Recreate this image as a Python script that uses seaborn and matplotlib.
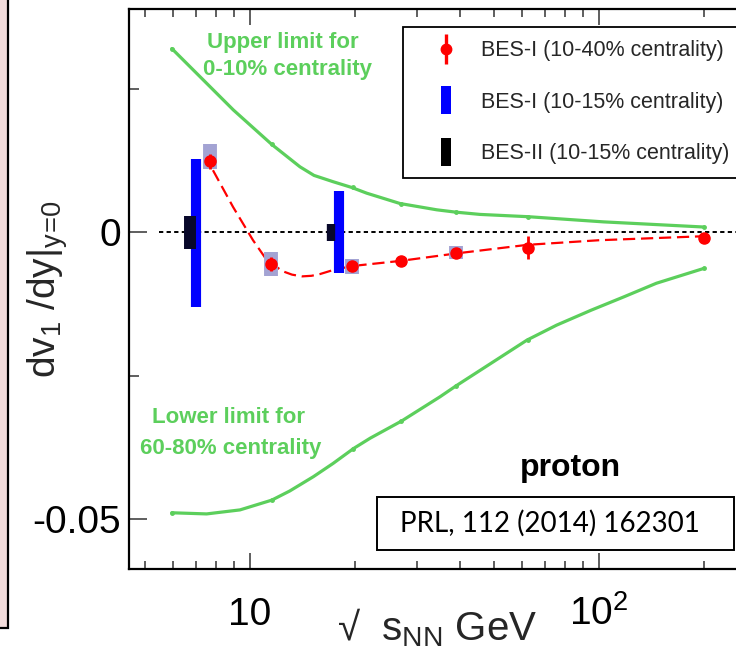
import matplotlib
matplotlib.use("Agg")
import matplotlib.pyplot as plt
import matplotlib.ticker as mticker
from matplotlib.lines import Line2D
from matplotlib.patches import Rectangle
import seaborn as sns

# ---------------- data ----------------
# BES-I proton dv1/dy (10-40% centrality)
bes1_x = [7.7, 11.5, 19.6, 27, 39, 62.4, 200]
bes1_y = [0.0124, -0.0056, -0.0059, -0.0050, -0.0036, -0.0027, -0.0010]
bes1_err = [0.0013, 0.0012, 0.0008, 0.0006, 0.0007, 0.0020, 0.0005]
# systematic boxes for BES-I
sys_x = [7.7, 11.5, 19.6, 39]
sys_lo = [0.0111, -0.0077, -0.0073, -0.0047]
sys_hi = [0.0153, -0.0035, -0.0047, -0.0024]
# BES-I (10-15% centrality) projected error bars
bes1c_x = [7.0, 18.0]
bes1c_lo = [-0.0131, -0.0071]
bes1c_hi = [0.0127, 0.0071]
# BES-II (10-15% centrality) projected error bars
bes2_x = [6.73, 17.1]
bes2_lo = [-0.0030, -0.0016]
bes2_hi = [0.0028, 0.0014]
# red dashed fit curve
fit_x = [7.83, 8.94, 10.2, 11.18, 12.4, 13.2, 14.1, 15.0, 15.86, 17.3, 19.6, 27, 39,
         62.4, 100, 200]
fit_y = [0.0108, 0.0044, -0.0014, -0.0049, -0.0068, -0.0074, -0.0077, -0.0076,
         -0.0073, -0.0066, -0.0059, -0.0050, -0.0037, -0.0022, -0.0014, -0.0007]
# green limit curves
up_x = [5.97, 7.19, 8.96, 11.54, 13.9, 15.25, 17.3, 19.55, 21.6, 26.9, 34.3, 38.8,
        45.6, 62.7, 103, 200]
up_y = [0.0320, 0.0271, 0.0213, 0.0153, 0.0114, 0.0099, 0.0088, 0.0078, 0.0068,
        0.0050, 0.0039, 0.0035, 0.0031, 0.0027, 0.0018, 0.0009]
lo_x = [5.97, 7.51, 9.36, 11.54, 13.0, 15.2, 17.3, 19.8, 22.1, 27.2, 35.0, 38.9,
        62.2, 75.6, 94.9, 117.5, 146, 200]
lo_y = [-0.0489, -0.0491, -0.0484, -0.0467, -0.0451, -0.0426, -0.0403, -0.0377,
        -0.0359, -0.0329, -0.0287, -0.0268, -0.0188, -0.0162, -0.0136, -0.0113,
        -0.0089, -0.0063]
model_x = [5.97, 11.54, 19.7, 27.1, 38.9, 62.4, 200]
model_up = [0.0320, 0.0153, 0.0078, 0.0050, 0.0035, 0.0027, 0.0009]
model_lo = [-0.0489, -0.0467, -0.0377, -0.0329, -0.0268, -0.0188, -0.0063]

x_major = [10, 100]
x_major_labels = ['10', r'$\mathregular{10^{2}}$']
x_minor = [5, 6, 7, 8, 9, 20, 30, 40, 50, 60, 70, 80, 90, 200]
y_major = [0, -0.05]
y_major_labels = ['0', '-0.05']
y_minor = [0.025, -0.025]

legend_labels = ['BES-I (10-40% centrality)', 'BES-I (10-15% centrality)',
                 'BES-II (10-15% centrality)']

# ---------------- style ----------------
sns.set_theme(style='ticks')
plt.rcParams['font.family'] = ['Liberation Sans', 'DejaVu Sans']
plt.rcParams['mathtext.fontset'] = 'custom'
plt.rcParams['mathtext.rm'] = 'Liberation Sans'
plt.rcParams['mathtext.it'] = 'Liberation Sans:italic'
plt.rcParams['mathtext.default'] = 'regular'

GREEN = '#5ccf5c'
RED = '#ff0000'
BLUE = '#0000ff'
DARK = '#08082a'
SYS = '#a3a3d3'

W, H = 736, 665
fig = plt.figure(figsize=(W / 100, H / 100), dpi=100)
fig.patch.set_facecolor('white')

# pink panel at the left edge
fig.patches.append(Rectangle((-0.02, (H - 628) / H), 0.02 + 8.5 / W, 1.1,
                             transform=fig.transFigure, facecolor='#f2dcdb',
                             edgecolor='black', lw=1.6, zorder=0))

ax_left, ax_bottom = 129, 569
ax_w = 636.5
ax_h = 560
ax = fig.add_axes([ax_left / W, (H - ax_bottom) / H, ax_w / W, ax_h / H])
ax.set_facecolor('white')
ax.set_xscale('log')
ax.set_xlim(4.5, 300)
ax.set_ylim(-0.0587, 0.0389)

# zero line
ax.axhline(0, xmin=0.047, xmax=1, color='black', lw=1.4, ls=(0, (2.2, 1.7)), zorder=1)

# green limits
sns.lineplot(x=up_x, y=up_y, ax=ax, color=GREEN, lw=2.3, sort=False, zorder=2)
sns.lineplot(x=lo_x, y=lo_y, ax=ax, color=GREEN, lw=2.3, sort=False, zorder=2)
ax.plot(model_x, model_up, ls='none', marker='o', ms=2.5, color=GREEN, zorder=2)
ax.plot(model_x, model_lo, ls='none', marker='o', ms=2.5, color=GREEN, zorder=2)

# red dashed fit
sns.lineplot(x=fit_x, y=fit_y, ax=ax, color=RED, lw=1.6, sort=False,
             dashes=False, zorder=3).lines[-1].set_dashes((5.5, 2.6))

# projected error bars
ax.vlines(bes1c_x, bes1c_lo, bes1c_hi, colors=BLUE, linewidths=7.3, zorder=4)
ax.vlines(bes2_x, bes2_lo, bes2_hi, colors=DARK, linewidths=[8.6, 6.0], zorder=5)

# systematic boxes and data points
ax.vlines(sys_x, sys_lo, sys_hi, colors=SYS, linewidths=10, zorder=5)
ax.errorbar(bes1_x, bes1_y, yerr=bes1_err, fmt='o', color=RED, ms=8, elinewidth=2,
            capsize=0, zorder=6)

# ticks
ax.set_xticks(x_major)
ax.set_xticklabels(x_major_labels)
ax.set_xticks(x_minor, minor=True)
ax.xaxis.set_minor_formatter(mticker.NullFormatter())
ax.set_yticks(y_major)
ax.set_yticklabels(y_major_labels)
ax.set_yticks(y_minor, minor=True)
ax.tick_params(axis='both', which='both', direction='in', top=True, right=True,
               colors='#333333', labelcolor='black', width=1.1)
ax.tick_params(axis='x', which='major', length=11.5, pad=40, labelsize=28)
ax.tick_params(axis='x', which='minor', length=6)
ax.tick_params(axis='y', which='major', length=13, pad=6, labelsize=28)
ax.tick_params(axis='y', which='minor', length=7)
for lbl in ax.get_xticklabels():
    lbl.set_verticalalignment('baseline')
for sp in ax.spines.values():
    sp.set_linewidth(1.6)
    sp.set_color('black')

# axis labels
ax.set_xlabel('√  s$_{NN}$ GeV', fontsize=29)
ax.xaxis.set_label_coords(0.484, -0.066)
ax.set_ylabel(r'dv$_1$ /dy$|_{y\!=\!0}$', fontsize=28)
ax.yaxis.set_label_coords(-0.093, 0.5)

# annotations
ax.text(0.2412, 0.9304, 'Upper limit for', transform=ax.transAxes, ha='center',
        va='baseline', color=GREEN, fontsize=16, fontweight='bold')
ax.text(0.249, 0.8813, '0-10% centrality', transform=ax.transAxes, ha='center',
        va='baseline', color=GREEN, fontsize=16, fontweight='bold')
ax.text(0.1571, 0.2607, 'Lower limit for', transform=ax.transAxes, ha='center',
        va='baseline', color=GREEN, fontsize=16, fontweight='bold')
ax.text(0.1595, 0.2054, '60-80% centrality', transform=ax.transAxes, ha='center',
        va='baseline', color=GREEN, fontsize=16, fontweight='bold')
ax.text(0.6929, 0.1661, 'proton', transform=ax.transAxes, ha='center',
        va='baseline', color='black', fontsize=23, fontweight='bold')
ax.add_patch(Rectangle((0.3896, 0.0339), 0.5609, 0.0947, transform=ax.transAxes,
                       facecolor='white', edgecolor='black', lw=1.4, zorder=7))
ax.text(0.6614, 0.0813, 'PRL, 112 (2014) 162301', transform=ax.transAxes,
        ha='center', va='center', color='black', fontsize=20,
        family=['Lato', 'DejaVu Sans'], zorder=8)

# legend
rect = [(-0.35, -1), (0.35, -1), (0.35, 1), (-0.35, 1), (-0.35, -1)]
h_red = (Line2D([], [], ls='none', marker='|', ms=21, mew=2.4, color=RED),
         Line2D([], [], ls='none', marker='o', ms=7.5, color=RED))
h_blue = Line2D([], [], ls='none', marker=rect, ms=20, color=BLUE, mew=0)
h_dark = Line2D([], [], ls='none', marker=rect, ms=20, color='black', mew=0)
leg = ax.legend([h_red, h_blue, h_dark], legend_labels, loc='upper left',
                bbox_to_anchor=(0.4305, 0.9679), borderaxespad=0, fontsize=15.5,
                frameon=True, fancybox=False, framealpha=1, edgecolor='black',
                borderpad=0.62, handlelength=2.8, handletextpad=0.2,
                labelspacing=1.42, numpoints=1)
leg.get_frame().set_linewidth(1.3)
leg.set_zorder(9)

fig.savefig('out.png', dpi=100)
